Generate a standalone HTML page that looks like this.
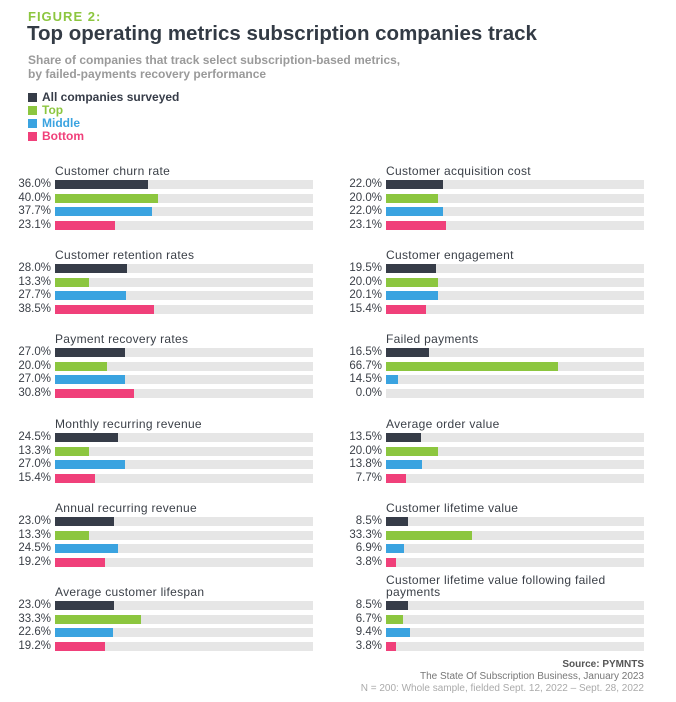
<!DOCTYPE html><html><head><meta charset="utf-8"><style>
body{margin:0;width:676px;height:702px;background:#fff;font-family:"Liberation Sans",sans-serif;position:relative;overflow:hidden}
.a{position:absolute;white-space:nowrap}
.g{position:absolute;width:330px;height:80px}
.t{position:absolute;left:55px;top:0;font-size:12px;color:#3a3f47;letter-spacing:0.3px;line-height:12px}
.r{position:absolute;left:0;height:13.5px;width:320px}
.r span{position:absolute;right:269px;top:0;font-size:11.5px;color:#3a3f47;line-height:13px}
.r i{position:absolute;left:55px;top:2px;width:258px;height:9px;background:#e6e6e6}
.r b{position:absolute;left:55px;top:2px;height:9px}
.k{background:#363c48}.gr{background:#8cc63f}.bl{background:#3aa3e0}.pk{background:#f0407a}
.lg{position:absolute;left:28px;font-size:12px;font-weight:bold;line-height:13px}
.lg:before{content:"";display:inline-block;width:9px;height:9px;margin-right:5px;vertical-align:-1px;background:currentColor}
</style></head><body>
<div class="a" style="left:28px;top:9px;font-size:13px;font-weight:bold;color:#8cc63f;letter-spacing:1px">FIGURE 2:</div>
<div class="a" style="left:27px;top:22px;font-size:20.5px;font-weight:bold;color:#333b45">Top operating metrics subscription companies track</div>
<div class="a" style="left:28px;top:54px;font-size:12px;font-weight:bold;color:#9a9a9a;line-height:13.5px">Share of companies that track select subscription-based metrics,<br>by failed-payments recovery performance</div>
<div class="lg" style="top:91px;color:#363c48">All companies surveyed</div>
<div class="lg" style="top:104px;color:#8cc63f">Top</div>
<div class="lg" style="top:117px;color:#3aa3e0">Middle</div>
<div class="lg" style="top:130px;color:#f0407a">Bottom</div>

<!-- left -->
<div class="g" style="left:0;top:165px"><div class="t">Customer churn rate</div>
<div class="r" style="top:13px"><span>36.0%</span><i></i><b class="k" style="width:93px"></b></div>
<div class="r" style="top:26.5px"><span>40.0%</span><i></i><b class="gr" style="width:103px"></b></div>
<div class="r" style="top:40px"><span>37.7%</span><i></i><b class="bl" style="width:97px"></b></div>
<div class="r" style="top:53.5px"><span>23.1%</span><i></i><b class="pk" style="width:60px"></b></div></div>
<div class="g" style="left:0;top:249px"><div class="t">Customer retention rates</div>
<div class="r" style="top:13px"><span>28.0%</span><i></i><b class="k" style="width:72px"></b></div>
<div class="r" style="top:26.5px"><span>13.3%</span><i></i><b class="gr" style="width:34px"></b></div>
<div class="r" style="top:40px"><span>27.7%</span><i></i><b class="bl" style="width:71px"></b></div>
<div class="r" style="top:53.5px"><span>38.5%</span><i></i><b class="pk" style="width:99px"></b></div></div>
<div class="g" style="left:0;top:333px"><div class="t">Payment recovery rates</div>
<div class="r" style="top:13px"><span>27.0%</span><i></i><b class="k" style="width:70px"></b></div>
<div class="r" style="top:26.5px"><span>20.0%</span><i></i><b class="gr" style="width:52px"></b></div>
<div class="r" style="top:40px"><span>27.0%</span><i></i><b class="bl" style="width:70px"></b></div>
<div class="r" style="top:53.5px"><span>30.8%</span><i></i><b class="pk" style="width:79px"></b></div></div>
<div class="g" style="left:0;top:418px"><div class="t">Monthly recurring revenue</div>
<div class="r" style="top:13px"><span>24.5%</span><i></i><b class="k" style="width:63px"></b></div>
<div class="r" style="top:26.5px"><span>13.3%</span><i></i><b class="gr" style="width:34px"></b></div>
<div class="r" style="top:40px"><span>27.0%</span><i></i><b class="bl" style="width:70px"></b></div>
<div class="r" style="top:53.5px"><span>15.4%</span><i></i><b class="pk" style="width:40px"></b></div></div>
<div class="g" style="left:0;top:502px"><div class="t">Annual recurring revenue</div>
<div class="r" style="top:13px"><span>23.0%</span><i></i><b class="k" style="width:59px"></b></div>
<div class="r" style="top:26.5px"><span>13.3%</span><i></i><b class="gr" style="width:34px"></b></div>
<div class="r" style="top:40px"><span>24.5%</span><i></i><b class="bl" style="width:63px"></b></div>
<div class="r" style="top:53.5px"><span>19.2%</span><i></i><b class="pk" style="width:50px"></b></div></div>
<div class="g" style="left:0;top:586px"><div class="t">Average customer lifespan</div>
<div class="r" style="top:13px"><span>23.0%</span><i></i><b class="k" style="width:59px"></b></div>
<div class="r" style="top:26.5px"><span>33.3%</span><i></i><b class="gr" style="width:86px"></b></div>
<div class="r" style="top:40px"><span>22.6%</span><i></i><b class="bl" style="width:58px"></b></div>
<div class="r" style="top:53.5px"><span>19.2%</span><i></i><b class="pk" style="width:50px"></b></div></div>

<!-- right -->
<div class="g" style="left:331px;top:165px"><div class="t">Customer acquisition cost</div>
<div class="r" style="top:13px"><span>22.0%</span><i></i><b class="k" style="width:57px"></b></div>
<div class="r" style="top:26.5px"><span>20.0%</span><i></i><b class="gr" style="width:52px"></b></div>
<div class="r" style="top:40px"><span>22.0%</span><i></i><b class="bl" style="width:57px"></b></div>
<div class="r" style="top:53.5px"><span>23.1%</span><i></i><b class="pk" style="width:60px"></b></div></div>
<div class="g" style="left:331px;top:249px"><div class="t">Customer engagement</div>
<div class="r" style="top:13px"><span>19.5%</span><i></i><b class="k" style="width:50px"></b></div>
<div class="r" style="top:26.5px"><span>20.0%</span><i></i><b class="gr" style="width:52px"></b></div>
<div class="r" style="top:40px"><span>20.1%</span><i></i><b class="bl" style="width:52px"></b></div>
<div class="r" style="top:53.5px"><span>15.4%</span><i></i><b class="pk" style="width:40px"></b></div></div>
<div class="g" style="left:331px;top:333px"><div class="t">Failed payments</div>
<div class="r" style="top:13px"><span>16.5%</span><i></i><b class="k" style="width:43px"></b></div>
<div class="r" style="top:26.5px"><span>66.7%</span><i></i><b class="gr" style="width:172px"></b></div>
<div class="r" style="top:40px"><span>14.5%</span><i></i><b class="bl" style="width:12px"></b></div>
<div class="r" style="top:53.5px"><span>0.0%</span><i></i></div></div>
<div class="g" style="left:331px;top:418px"><div class="t">Average order value</div>
<div class="r" style="top:13px"><span>13.5%</span><i></i><b class="k" style="width:35px"></b></div>
<div class="r" style="top:26.5px"><span>20.0%</span><i></i><b class="gr" style="width:52px"></b></div>
<div class="r" style="top:40px"><span>13.8%</span><i></i><b class="bl" style="width:36px"></b></div>
<div class="r" style="top:53.5px"><span>7.7%</span><i></i><b class="pk" style="width:20px"></b></div></div>
<div class="g" style="left:331px;top:502px"><div class="t">Customer lifetime value</div>
<div class="r" style="top:13px"><span>8.5%</span><i></i><b class="k" style="width:22px"></b></div>
<div class="r" style="top:26.5px"><span>33.3%</span><i></i><b class="gr" style="width:86px"></b></div>
<div class="r" style="top:40px"><span>6.9%</span><i></i><b class="bl" style="width:18px"></b></div>
<div class="r" style="top:53.5px"><span>3.8%</span><i></i><b class="pk" style="width:10px"></b></div></div>
<div class="g" style="left:331px;top:586px"><div class="t" style="top:-12px">Customer lifetime value following failed<br>payments</div>
<div class="r" style="top:13px"><span>8.5%</span><i></i><b class="k" style="width:22px"></b></div>
<div class="r" style="top:26.5px"><span>6.7%</span><i></i><b class="gr" style="width:17px"></b></div>
<div class="r" style="top:40px"><span>9.4%</span><i></i><b class="bl" style="width:24px"></b></div>
<div class="r" style="top:53.5px"><span>3.8%</span><i></i><b class="pk" style="width:10px"></b></div></div>

<div class="a" style="right:32px;top:659px;font-size:10px;font-weight:bold;color:#555;text-align:right">Source: PYMNTS</div>
<div class="a" style="right:32px;top:671px;font-size:10px;color:#777;text-align:right">The State Of Subscription Business, January 2023</div>
<div class="a" style="right:32px;top:683px;font-size:10px;color:#aaa;text-align:right">N = 200: Whole sample, fielded Sept. 12, 2022 – Sept. 28, 2022</div>
</body></html>
